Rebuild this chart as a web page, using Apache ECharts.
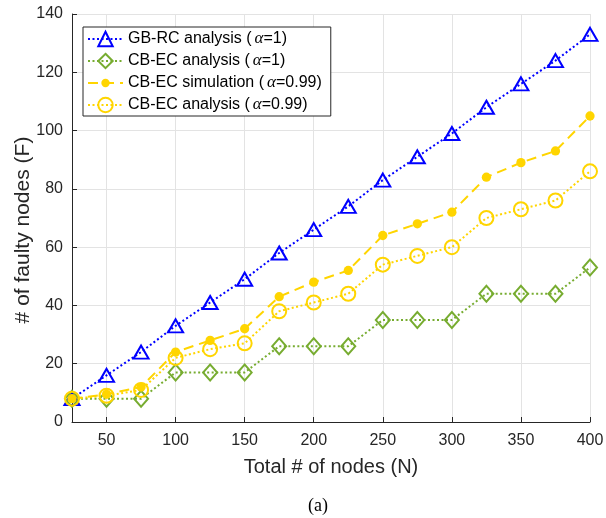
<!DOCTYPE html>
<html><head><meta charset="utf-8">
<script src="https://cdn.jsdelivr.net/npm/echarts@6/dist/echarts.min.js"></script>
<style>html,body{margin:0;padding:0;background:#fff}#c{width:606px;height:518px}</style>
</head><body><div id="c"></div>
<script>
const nodes = [25, 50, 75, 100, 125, 150, 175, 200, 225, 250, 275, 300, 325, 350, 375, 400];
const gbrcAnalysis = [8, 16, 24, 33, 41, 49, 58, 66, 74, 83, 91, 99, 108, 116, 124, 133];
const cbecAnalysisA1 = [8, 8, 8, 17, 17, 17, 26, 26, 26, 35, 35, 35, 44, 44, 44, 53];
const cbecSim099 = [8, 9.5, 12, 24, 28, 32, 43, 48, 52, 64, 68, 72, 84, 89, 93, 105];
const cbecAnalysis099 = [8, 9, 11, 22, 25, 27, 38, 41, 44, 54, 57, 60, 70, 73, 76, 86];
const xTickLabels = [50, 100, 150, 200, 250, 300, 350, 400];
const yTickLabels = [0, 20, 40, 60, 80, 100, 120, 140];
const seriesNames = ['GB-RC analysis (α=1)', 'CB-EC analysis (α=1)', 'CB-EC simulation (α=0.99)', 'CB-EC analysis (α=0.99)'];

const BLUE = '#0000ff', GREEN = '#77ac30', YELLOW = '#ffd500', AX = '#262626';
const FONT = '"Liberation Sans", Arial, sans-serif';
const pairs = arr => nodes.map((n, i) => [n, arr[i]]);
// small filled dot inside a larger (empty) bounding box so the legend dot stays small
const SMALL_DOT = 'path://M0,0M20,20M4.2,10a5.8,5.8 0 1,0 11.6,0a5.8,5.8 0 1,0 -11.6,0Z';

const chart = echarts.init(document.getElementById('c'), null, {renderer: 'canvas'});
chart.setOption({
  animation: false,
  backgroundColor: '#fff',
  grid: {left: 72, right: 16, top: 14, bottom: 96, containLabel: false, outerBoundsMode: 'none'},
  xAxis: {
    type: 'value', min: 25, max: 400,
    name: 'Total # of nodes (N)', nameLocation: 'middle', nameGap: 35,
    nameTextStyle: {fontFamily: FONT, fontSize: 20, color: AX},
    axisLine: {show: true, onZero: false, lineStyle: {color: AX, width: 1}},
    axisTick: {show: true, inside: true, length: 5, customValues: xTickLabels, lineStyle: {color: AX}},
    axisLabel: {customValues: xTickLabels, fontFamily: FONT, fontSize: 16, color: AX, margin: 11},
    splitLine: {show: true, lineStyle: {color: '#e3e3e3', width: 1}}
  },
  yAxis: {
    type: 'value', min: 0, max: 140, interval: 20,
    name: '# of faulty nodes (F)', nameLocation: 'middle', nameGap: 38, nameMoveOverlap: false,
    nameTextStyle: {fontFamily: FONT, fontSize: 21, color: AX, padding: [0, 24, 0, 0]},
    axisLine: {show: true, lineStyle: {color: AX, width: 1}},
    axisTick: {show: true, inside: true, length: 5, lineStyle: {color: AX}},
    axisLabel: {fontFamily: FONT, fontSize: 16, color: AX, margin: 9},
    splitLine: {show: true, lineStyle: {color: '#e3e3e3', width: 1}}
  },
  legend: {
    orient: 'vertical', left: 83, top: 27,
    backgroundColor: '#fff', borderColor: AX, borderWidth: 1,
    padding: [3, 9, 2, 4], itemGap: 4, itemWidth: 35, itemHeight: 18,
    data: seriesNames,
    formatter: name => name.replace('α', '{a|α}'),
    textStyle: {fontFamily: FONT, fontSize: 16, color: '#000', lineHeight: 18,
      rich: {a: {fontFamily: '"Liberation Serif", "Times New Roman", serif', fontStyle: 'italic', fontSize: 17, lineHeight: 18, padding: [0, 0, 0, 3]}}}
  },
  series: [
    {
      name: seriesNames[0], type: 'line', data: pairs(gbrcAnalysis),
      symbol: 'triangle', symbolSize: [15, 13],
      lineStyle: {color: BLUE, width: 2, type: [2, 2.5]},
      itemStyle: {color: 'rgba(255,255,255,0)', borderColor: BLUE, borderWidth: 2}
    },
    {
      name: seriesNames[1], type: 'line', data: pairs(cbecAnalysisA1),
      symbol: 'diamond', symbolSize: [14, 16],
      lineStyle: {color: GREEN, width: 2, type: [2, 2.5]},
      itemStyle: {color: 'rgba(255,255,255,0)', borderColor: GREEN, borderWidth: 2}
    },
    {
      name: seriesNames[2], type: 'line', data: pairs(cbecSim099),
      symbol: SMALL_DOT, symbolSize: 16,
      lineStyle: {color: YELLOW, width: 2, type: [10, 6]},
      itemStyle: {color: YELLOW, borderWidth: 0}
    },
    {
      name: seriesNames[3], type: 'line', data: pairs(cbecAnalysis099),
      symbol: 'circle', symbolSize: 14,
      lineStyle: {color: YELLOW, width: 2, type: [2, 2.5]},
      itemStyle: {color: 'rgba(255,255,255,0)', borderColor: YELLOW, borderWidth: 2}
    }
  ],
  graphic: [{
    type: 'text', left: 308, top: 497,
    style: {text: '(a)', font: '18px "Liberation Serif", "Times New Roman", serif', fill: '#000'}
  }]
});
</script></body></html>
